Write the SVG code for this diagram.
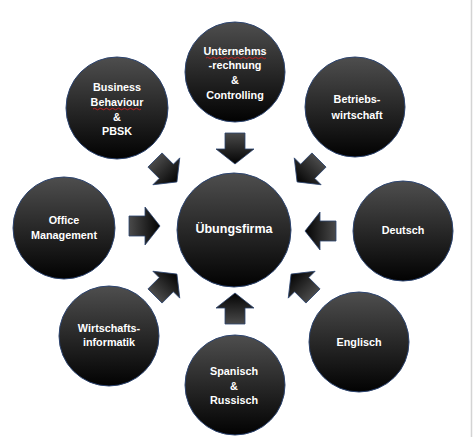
<svg xmlns="http://www.w3.org/2000/svg" width="473" height="437" viewBox="0 0 473 437">
<defs>
<linearGradient id="cg" x1="0" y1="0" x2="0" y2="1">
<stop offset="0" stop-color="#4e4e4e"/>
<stop offset="1" stop-color="#020202"/>
</linearGradient>
<linearGradient id="ag" x1="0" y1="0" x2="1" y2="0">
<stop offset="0" stop-color="#4a4a4a"/>
<stop offset="1" stop-color="#030303"/>
</linearGradient>
<path id="arrow" d="M0,-10 L16,-10 L16,-19 L31,0 L16,19 L16,10 L0,10 Z"/>
</defs>
<style>
.node circle{fill:url(#cg);stroke:#2c4470;stroke-width:1}
.node text{font-family:"Liberation Sans",Arial,sans-serif;font-weight:bold;font-size:10.8px;fill:#ffffff;text-anchor:middle}
.arr use{fill:url(#ag);stroke:#2c4470;stroke-width:0.8}
.sq{fill:none;stroke:#d02020;stroke-width:0.9}
</style>
<rect width="473" height="437" fill="#ffffff"/>
<line x1="471.5" y1="0" x2="471.5" y2="437" stroke="#d4d4d4" stroke-width="1.5"/>

<g id="connectors" class="arr">
<use href="#arrow" transform="translate(235,133) rotate(90)"/>
<use href="#arrow" transform="translate(235,324) rotate(-90)"/>
<use href="#arrow" transform="translate(129,226)"/>
<use href="#arrow" transform="translate(336,231) rotate(180)"/>
<use href="#arrow" transform="translate(155,160) rotate(45)"/>
<use href="#arrow" transform="translate(319,160) rotate(135)"/>
<use href="#arrow" transform="translate(313,296) rotate(-135)"/>
<use href="#arrow" transform="translate(155,296) rotate(-45)"/>
</g>

<g id="n-uebungsfirma" class="node">
<circle cx="234" cy="230" r="57"/>
<text x="234" y="233" style="font-size:12.5px">Übungsfirma</text>
</g>

<g id="n-unternehmensrechnung" class="node">
<circle cx="235" cy="72" r="50"/>
<text x="235" y="55">Unternehms</text>
<text x="235" y="69">-rechnung</text>
<text x="235" y="84">&amp;</text>
<text x="235" y="99">Controlling</text>
<path class="sq" d="M206,58 q1.5,-1.5 3,0 t3,0 t3,0 t3,0 t3,0 t3,0 t3,0 t3,0 t3,0 t3,0 t3,0 t3,0 t3,0 t3,0 t3,0 t3,0 t3,0 t3,0 t3,0 t3,0"/>
</g>

<g id="n-business" class="node">
<circle cx="117" cy="108" r="51"/>
<text x="117" y="91">Business</text>
<text x="117" y="106">Behaviour</text>
<text x="117" y="121">&amp;</text>
<text x="117" y="135">PBSK</text>
<path class="sq" d="M93,109 q1.5,-1.5 3,0 t3,0 t3,0 t3,0 t3,0 t3,0 t3,0 t3,0 t3,0 t3,0 t3,0 t3,0 t3,0 t3,0 t3,0 t3,0"/>
</g>

<g id="n-betriebswirtschaft" class="node">
<circle cx="355" cy="107" r="50"/>
<text x="357" y="103">Betriebs-</text>
<text x="357" y="119">wirtschaft</text>
</g>

<g id="n-deutsch" class="node">
<circle cx="403" cy="231" r="50"/>
<text x="403" y="234">Deutsch</text>
</g>

<g id="n-englisch" class="node">
<circle cx="359" cy="342" r="50"/>
<text x="359" y="346">Englisch</text>
</g>

<g id="n-office" class="node">
<circle cx="64" cy="228" r="51"/>
<text x="64" y="224">Office</text>
<text x="64" y="239">Management</text>
</g>

<g id="n-wirtschaftsinformatik" class="node">
<circle cx="109" cy="336" r="50"/>
<text x="109" y="332">Wirtschafts-</text>
<text x="109" y="346">informatik</text>
</g>

<g id="n-spanisch" class="node">
<circle cx="235" cy="385" r="50"/>
<text x="234" y="375">Spanisch</text>
<text x="234" y="390">&amp;</text>
<text x="234" y="404">Russisch</text>
</g>
</svg>
